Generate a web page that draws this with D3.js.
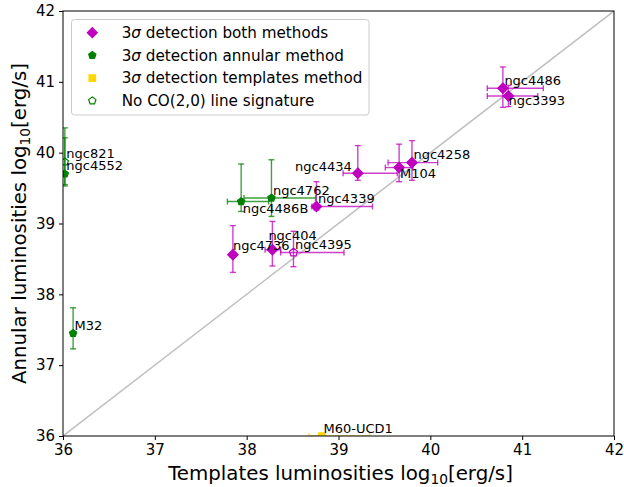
<!DOCTYPE html>
<html>
<head>
<meta charset="utf-8">
<script src="https://cdn.jsdelivr.net/npm/d3@7"></script>
<style>
  html, body { margin: 0; padding: 0; background: #fff; }
  svg { display: block; font-family: "DejaVu Sans", sans-serif; }
</style>
</head>
<body>
<svg id="chart" width="624" height="487"></svg>
<script>
// Galaxy names and their CO(2,0) luminosities (log10 erg/s)
const names    = ["ngc4486", "ngc3393", "ngc4258", "M104", "ngc4434", "ngc4339", "ngc4736", "ngc404", "ngc4395", "ngc4486B", "ngc4762", "M32", "ngc4552", "ngc821", "M60-UCD1"];
const kinds    = ["both", "both", "both", "both", "both", "both", "both", "both", "bothOpen", "annular", "annular", "annular", "annular", "none", "templates"];
const templLum = [40.79, 40.85, 39.80, 39.66, 39.21, 38.76, 37.85, 38.28, 38.51, 37.94, 38.27, 36.11, 36.02, 36.02, 38.82];
const annLum   = [40.91, 40.80, 39.86, 39.79, 39.71, 39.24, 38.56, 38.63, 38.59, 39.31, 39.36, 37.45, 39.70, 39.87, 36.00];
// asymmetric uncertainties: lower / upper
const templErrLo = [0.17, 0.23, 0.26, 0.15, 0.16, 0.05, 0.03, 0.08, 0.14, 0.15, 0.30, 0.00, 0.00, 0.00, 0.14];
const templErrHi = [0.44, 0.32, 0.28, 0.15, 0.43, 0.61, 0.03, 0.09, 0.55, 0.30, 0.48, 0.00, 0.00, 0.00, 0.52];
const annErrLo   = [0.27, 0.15, 0.25, 0.20, 0.10, 0.05, 0.25, 0.23, 0.20, 0.14, 0.26, 0.22, 0.15, 0.34, 0.00];
const annErrHi   = [0.30, 0.15, 0.31, 0.33, 0.39, 0.35, 0.41, 0.40, 0.30, 0.53, 0.54, 0.36, 0.65, 0.34, 0.00];

const xTicks = [36, 37, 38, 39, 40, 41, 42];
const yTicks = [36, 37, 38, 39, 40, 41, 42];

const legendItems = [
  { kind: "both",      pre: "3", sym: "σ", text: " detection both methods" },
  { kind: "annular",   pre: "3", sym: "σ", text: " detection annular method" },
  { kind: "templates", pre: "3", sym: "σ", text: " detection templates method" },
  { kind: "none",      pre: "",  sym: "",  text: "No CO(2,0) line signature" }
];

// label nudges in px (text anchored at the point unless noted)
const labelShift = {
  "ngc3393": [0, 9], "M104": [1, 10], "ngc4434": [-6, -2.6, "end"],
  "ngc4486B": [1.5, 11], "ngc404": [-4, -9.3], "ngc4736": [0, -5]
};

const MAG = "#bf00bf", GRN = "#008000", GOLD = "#ffd700";
const style = {
  both:      { shape: "diamond",  fill: MAG,    stroke: MAG,  r: 5.2, bar: MAG },
  bothOpen:  { shape: "pentagon", fill: "none", stroke: MAG,  r: 4.2, bar: MAG },
  annular:   { shape: "pentagon", fill: GRN,    stroke: GRN,  r: 3.8, bar: GRN },
  none:      { shape: "pentagon", fill: "none", stroke: GRN,  r: 3.8, bar: GRN },
  templates: { shape: "square",   fill: GOLD,   stroke: GOLD, r: 4.6, bar: GOLD }
};

function polygon(n, r, rot) {
  const pts = d3.range(n).map(i => {
    const a = rot + i * 2 * Math.PI / n;
    return [r * Math.sin(a), -r * Math.cos(a)];
  });
  return "M" + pts.map(p => p[0].toFixed(2) + "," + p[1].toFixed(2)).join("L") + "Z";
}
function markerPath(shape, r) {
  if (shape === "diamond") return polygon(4, r, 0);
  if (shape === "square") return polygon(4, r, Math.PI / 4);
  return polygon(5, r, 0);
}

const svg = d3.select("#chart");
const L = 63, R = 614, T = 11, B = 436;
const x = d3.scaleLinear().domain([36, 42]).range([L, R]);
const y = d3.scaleLinear().domain([36, 42]).range([B, T]);

svg.append("defs").append("clipPath").attr("id", "plotClip")
  .append("rect").attr("x", L).attr("y", T).attr("width", R - L).attr("height", B - T);

// one-to-one line
const plot = svg.append("g").attr("clip-path", "url(#plotClip)");
plot.append("line")
  .attr("x1", x(36)).attr("y1", y(36)).attr("x2", x(42)).attr("y2", y(42))
  .attr("stroke", "#bfbfbf").attr("stroke-width", 1.5);

const pts = names.map((n, i) => ({
  name: n, kind: kinds[i], tx: templLum[i], ty: annLum[i],
  xl: templErrLo[i], xh: templErrHi[i], yl: annErrLo[i], yh: annErrHi[i]
}));

// error bars
const cap = 3;
pts.forEach(d => {
  const s = style[d.kind];
  const g = plot.append("g").attr("stroke", s.bar).attr("stroke-opacity", 0.75).attr("stroke-width", 1.4).attr("fill", "none");
  if (d.xl > 0 || d.xh > 0) {
    const x0 = x(d.tx - d.xl), x1 = x(d.tx + d.xh), yy = y(d.ty);
    g.append("line").attr("x1", x0).attr("x2", x1).attr("y1", yy).attr("y2", yy);
    g.append("line").attr("x1", x0).attr("x2", x0).attr("y1", yy - cap).attr("y2", yy + cap);
    g.append("line").attr("x1", x1).attr("x2", x1).attr("y1", yy - cap).attr("y2", yy + cap);
  }
  if (d.yl > 0 || d.yh > 0) {
    const y0 = y(d.ty - d.yl), y1 = y(d.ty + d.yh), xx = x(d.tx);
    g.append("line").attr("x1", xx).attr("x2", xx).attr("y1", y0).attr("y2", y1);
    g.append("line").attr("y1", y0).attr("y2", y0).attr("x1", xx - cap).attr("x2", xx + cap);
    g.append("line").attr("y1", y1).attr("y2", y1).attr("x1", xx - cap).attr("x2", xx + cap);
  }
});

// markers
pts.forEach(d => {
  const s = style[d.kind];
  plot.append("path")
    .attr("d", markerPath(s.shape, s.r))
    .attr("transform", `translate(${x(d.tx)},${y(d.ty)})`)
    .attr("fill", s.fill).attr("stroke", s.stroke).attr("stroke-width", 1.2);
});

// galaxy labels
pts.forEach(d => {
  const sh = labelShift[d.name] || [1.5, -3.5];
  svg.append("text")
    .attr("x", x(d.tx) + sh[0]).attr("y", y(d.ty) + sh[1])
    .attr("text-anchor", sh[2] || "start")
    .attr("font-size", 13).attr("fill", "#000")
    .text(d.name);
});

// axes
const xAxis = d3.axisBottom(x).tickValues(xTicks).tickFormat(d3.format("d")).tickSizeOuter(0).tickSize(4).tickPadding(4);
const yAxis = d3.axisLeft(y).tickValues(yTicks).tickFormat(d3.format("d")).tickSizeOuter(0).tickSize(4).tickPadding(4);
const gx = svg.append("g").attr("transform", `translate(0,${B})`).call(xAxis);
const gy = svg.append("g").attr("transform", `translate(${L},0)`).call(yAxis);
[gx, gy].forEach(g => {
  g.select(".domain").remove();
  g.selectAll("text").attr("font-size", 15).attr("font-family", "DejaVu Sans").attr("fill", "#000");
  g.selectAll("line").attr("stroke", "#000");
});

// frame
svg.append("rect").attr("x", L).attr("y", T).attr("width", R - L).attr("height", B - T)
  .attr("fill", "none").attr("stroke", "#000").attr("stroke-width", 1);

// axis titles
const xt = svg.append("text").attr("x", (L + R) / 2 + 2).attr("y", 480)
  .attr("text-anchor", "middle").attr("font-size", 19.8);
xt.append("tspan").text("Templates luminosities log");
xt.append("tspan").attr("font-size", 13.8).attr("dy", 4).text("10");
xt.append("tspan").attr("dy", -4).text("[erg/s]");

const yt = svg.append("text").attr("transform", `translate(26,${(T + B) / 2}) rotate(-90)`)
  .attr("text-anchor", "middle").attr("font-size", 19.8);
yt.append("tspan").text("Annular luminosities log");
yt.append("tspan").attr("font-size", 13.8).attr("dy", 4).text("10");
yt.append("tspan").attr("dy", -4).text("[erg/s]");

// legend
const lg = svg.append("g");
lg.append("rect").attr("x", 71.5).attr("y", 19.5).attr("width", 297.5).attr("height", 95.5)
  .attr("rx", 3).attr("fill", "#fff").attr("fill-opacity", 0.8).attr("stroke", "#cccccc").attr("stroke-width", 1);
legendItems.forEach((it, i) => {
  const cy = 32.7 + i * 22.7;
  const s = style[it.kind];
  lg.append("path").attr("d", markerPath(s.shape, it.kind === "both" ? 5 : s.r))
    .attr("transform", `translate(92.3,${cy})`)
    .attr("fill", s.fill).attr("stroke", s.stroke).attr("stroke-width", 1.2);
  const t = lg.append("text").attr("x", 121.7).attr("y", cy + 5.2).attr("font-size", 15.2);
  if (it.pre) t.append("tspan").text(it.pre);
  if (it.sym) t.append("tspan").attr("font-style", "italic").text(it.sym);
  t.append("tspan").text(it.text);
});
</script>
</body>
</html>
